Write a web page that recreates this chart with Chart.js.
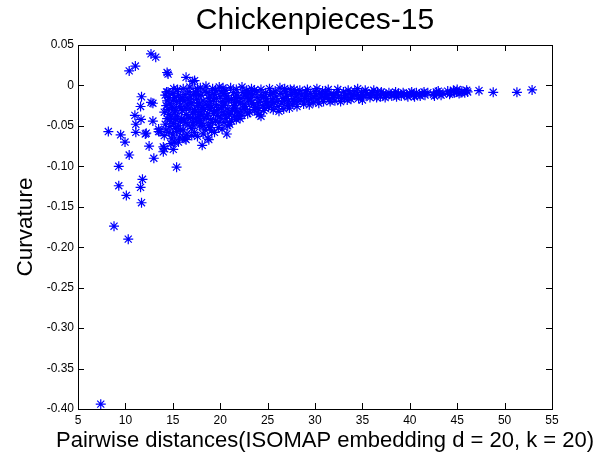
<!DOCTYPE html>
<html>
<head>
<meta charset="utf-8">
<script src="https://cdn.jsdelivr.net/npm/chart.js@4.4.0/dist/chart.umd.min.js"></script>
<style>
  body { margin: 0; background: #fff; }
  canvas { display: block; }
</style>
</head>
<body>
<canvas id="grafica" width="612" height="464"></canvas>
<script>
// textos y ejes
const titulo = 'Chickenpieces-15';
const etiquetaX = 'Pairwise distances(ISOMAP embedding d = 20, k = 20)';
const etiquetaY = 'Curvature';
const xTickValues = [5, 10, 15, 20, 25, 30, 35, 40, 45, 50, 55];
const yTickValues = [-0.4, -0.35, -0.3, -0.25, -0.2, -0.15, -0.1, -0.05, 0, 0.05];

// puntos sueltos a la izquierda (distancia, curvatura)
const sparsePoints = [
  [7.4, -0.394], [8.2, -0.057], [8.8, -0.174], [9.3, -0.100], [9.3, -0.124], [9.5, -0.061],
  [9.96, -0.070], [10.1, -0.136], [10.3, -0.190], [10.4, -0.086], [10.4, 0.018], [11.05, 0.024],
  [11.0, -0.037], [11.1, -0.048], [11.1, -0.058], [11.6, -0.026], [11.6, -0.126], [11.65, -0.042],
  [11.7, -0.014], [11.7, -0.145], [11.8, -0.116], [12.1, -0.060], [12.2, -0.059], [12.5, -0.075],
  [12.7, 0.039], [12.7, -0.021], [12.9, -0.044], [13.0, -0.090], [13.2, 0.035], [13.5, -0.057],
  [13.5, -0.054], [13.65, -0.057], [12.9, -0.022], [14.4, 0.016], [14.5, 0.014], [16.4, 0.010],
  [17.1, 0.005], [17.3, 0.006], [14.35, -0.008], [15.4, -0.101], [14.1, -0.078], [15.05, -0.079],
  [14.0, -0.076], [14.0, -0.082], [16.3, -0.066], [16.4, -0.067], [18.1, -0.074], [18.7, -0.065],
  [18.8, -0.067], [20.7, -0.060]
];

// nube densa entre 14 y 25
const densePoints = [
  [14.2, -0.012], [14.3, -0.025], [14.1, -0.033], [14.4, -0.041], [14.2, -0.048], [14.3, -0.055],
  [14.1, -0.062], [14.5, -0.030], [14.6, -0.015], [14.7, -0.022], [14.6, -0.036], [14.8, -0.044],
  [14.7, -0.051], [14.6, -0.058], [14.9, -0.066], [14.8, -0.039], [15.0, -0.010], [15.1, -0.018],
  [15.0, -0.027], [15.2, -0.034], [15.1, -0.047], [15.3, -0.053], [15.0, -0.061], [15.2, -0.070],
  [15.3, -0.031], [15.5, -0.005], [15.6, -0.012], [15.4, -0.020], [15.7, -0.026], [15.5, -0.038],
  [15.8, -0.045], [15.6, -0.050], [15.4, -0.057], [15.7, -0.064], [15.9, -0.029], [15.9, -0.041],
  [14.4, -0.019], [15.3, -0.042],
  [16.1, -0.004], [16.3, -0.011], [16.2, -0.019], [16.5, -0.024], [16.0, -0.031], [16.4, -0.036],
  [16.2, -0.043], [16.6, -0.049], [16.1, -0.055], [16.5, -0.060], [16.8, -0.002], [16.9, -0.014],
  [17.0, -0.021], [16.8, -0.028], [17.1, -0.034], [16.9, -0.040], [17.2, -0.046], [17.0, -0.053],
  [17.3, -0.058], [17.4, -0.008], [17.5, -0.017], [17.6, -0.025], [17.3, -0.030], [17.7, -0.038],
  [17.5, -0.044], [17.8, -0.050], [17.6, -0.063], [17.9, -0.003], [18.0, -0.012], [18.2, -0.019],
  [18.1, -0.027], [17.9, -0.033], [18.3, -0.041], [18.0, -0.047], [18.4, -0.055], [18.2, -0.060],
  [18.5, -0.001], [18.6, -0.009], [18.8, -0.016], [18.5, -0.023], [18.9, -0.029], [18.7, -0.035],
  [19.0, -0.042], [18.8, -0.049], [19.1, -0.056], [19.2, -0.004], [19.4, -0.011], [19.3, -0.018],
  [19.6, -0.024], [19.4, -0.031], [19.7, -0.037], [19.5, -0.044], [19.8, -0.052], [19.9, -0.002],
  [20.0, -0.014], [20.2, -0.020], [20.1, -0.027], [20.3, -0.033], [20.0, -0.039], [20.4, -0.046],
  [20.2, -0.054], [20.6, -0.006], [20.7, -0.013], [20.5, -0.022], [20.8, -0.029], [20.9, -0.035],
  [20.6, -0.041], [21.0, -0.048], [21.1, -0.003], [21.2, -0.017], [21.4, -0.025], [21.3, -0.031],
  [21.5, -0.038], [21.2, -0.044],
  [16.7, -0.008], [17.8, -0.022], [18.6, -0.038], [19.1, -0.027], [19.9, -0.045], [20.4, -0.010],
  [21.0, -0.036], [16.3, -0.046], [17.2, -0.011], [18.4, -0.007], [19.6, -0.016], [20.9, -0.019],
  [21.6, -0.015], [16.0, -0.015], [17.4, -0.041], [18.9, -0.052], [19.3, -0.035], [20.3, -0.025],
  [21.8, -0.032], [22.4, -0.028], [23.0, -0.010], [23.9, -0.033], [24.6, -0.014], [22.1, -0.022],
  [21.7, -0.005], [21.8, -0.012], [21.9, -0.020], [21.6, -0.028], [22.0, -0.034], [22.1, -0.041],
  [22.3, -0.002], [22.4, -0.009], [22.2, -0.016], [22.5, -0.023], [22.6, -0.030], [22.3, -0.037],
  [22.8, -0.006], [22.9, -0.014], [23.0, -0.019], [22.7, -0.026], [23.1, -0.033], [23.3, -0.004],
  [23.4, -0.011], [23.2, -0.017], [23.5, -0.024], [23.6, -0.030], [23.8, -0.008], [23.9, -0.015],
  [24.0, -0.021], [23.7, -0.027], [24.1, -0.036], [24.3, -0.005], [24.4, -0.012], [24.2, -0.018],
  [24.5, -0.025], [24.6, -0.031], [24.8, -0.009], [24.9, -0.016], [25.0, -0.022], [24.7, -0.028],
  [14.5, -0.008], [14.9, -0.028], [15.2, -0.015], [15.8, -0.018], [15.8, -0.055], [16.4, -0.028],
  [16.6, -0.040], [16.9, -0.022], [17.1, -0.048], [17.4, -0.032], [17.7, -0.012], [17.9, -0.043],
  [18.3, -0.030], [18.2, -0.050], [18.7, -0.025], [18.9, -0.012], [19.2, -0.046], [19.5, -0.006],
  [19.8, -0.030], [20.1, -0.008], [20.5, -0.036], [20.8, -0.050], [21.4, -0.009], [21.5, -0.021],
  [21.9, -0.038], [22.6, -0.013], [22.9, -0.035], [23.3, -0.022], [23.6, -0.006], [24.0, -0.028],
  [24.3, -0.038], [24.8, -0.020], [14.8, -0.072], [15.6, -0.070], [16.2, -0.064], [17.0, -0.062],
  [19.4, -0.058], [16.6, -0.017], [18.0, -0.036], [19.0, -0.020], [20.6, -0.016], [21.7, -0.042],
  [15.1, -0.004], [17.6, -0.004], [20.3, -0.003]
];

// cola que se estrecha hacia la derecha
const tailPoints = [
  [25.2, -0.004], [25.3, -0.011], [25.5, -0.017], [25.4, -0.024], [25.6, -0.030], [25.8, -0.007],
  [25.9, -0.014], [26.0, -0.020], [26.1, -0.026], [26.3, -0.003], [26.4, -0.010], [26.6, -0.016],
  [26.5, -0.022], [26.7, -0.029], [26.9, -0.008], [27.0, -0.013], [27.2, -0.019], [27.1, -0.025],
  [27.4, -0.005], [27.5, -0.011], [27.7, -0.017], [27.6, -0.023], [27.9, -0.009], [28.0, -0.014],
  [28.2, -0.020], [28.1, -0.026], [28.4, -0.006], [28.6, -0.012], [28.5, -0.018], [28.8, -0.023],
  [29.0, -0.008], [29.1, -0.013], [29.3, -0.019], [29.5, -0.010], [29.6, -0.016], [29.8, -0.021],
  [30.0, -0.007], [30.1, -0.012], [30.3, -0.017], [30.5, -0.010], [30.7, -0.014], [30.9, -0.020],
  [31.1, -0.008], [31.3, -0.012], [31.5, -0.017], [31.7, -0.010], [31.9, -0.015], [32.1, -0.019],
  [32.3, -0.009], [32.5, -0.013], [32.8, -0.016], [33.0, -0.008], [33.2, -0.012], [33.4, -0.018],
  [33.7, -0.010], [33.9, -0.014], [34.2, -0.007], [34.4, -0.012], [34.6, -0.016], [34.9, -0.009],
  [35.1, -0.013], [35.3, -0.006], [35.5, -0.011], [35.8, -0.015], [36.0, -0.009], [36.3, -0.012],
  [36.6, -0.008], [36.9, -0.014], [37.2, -0.010], [37.5, -0.012], [37.8, -0.009], [38.1, -0.013],
  [38.4, -0.011], [38.8, -0.010], [39.1, -0.013], [39.4, -0.011], [39.7, -0.012], [40.0, -0.010],
  [40.4, -0.012], [40.7, -0.009], [41.0, -0.011], [41.3, -0.010], [41.6, -0.012], [41.9, -0.009],
  [42.5, -0.011], [42.8, -0.008], [43.1, -0.010], [43.3, -0.012], [44.0, -0.007], [44.3, -0.009],
  [44.6, -0.006], [44.9, -0.008], [45.2, -0.010], [45.5, -0.007], [45.8, -0.009], [46.1, -0.008],
  [25.1, -0.027], [25.6, -0.009], [25.7, -0.021], [26.2, -0.032], [26.8, -0.004], [26.8, -0.019],
  [27.3, -0.028], [27.8, -0.005], [27.8, -0.020], [28.3, -0.010], [28.9, -0.016], [29.2, -0.005],
  [29.4, -0.024], [29.9, -0.014], [30.2, -0.004], [30.4, -0.022], [30.8, -0.007], [31.0, -0.015],
  [31.4, -0.005], [31.6, -0.020], [32.0, -0.012], [32.4, -0.005], [32.7, -0.020], [33.1, -0.015],
  [33.5, -0.006], [33.8, -0.017], [34.0, -0.011], [34.5, -0.004], [34.8, -0.013], [35.0, -0.018],
  [35.4, -0.009], [35.9, -0.012], [36.2, -0.006], [36.5, -0.015], [37.0, -0.008], [37.4, -0.015],
  [38.0, -0.011], [38.5, -0.008], [38.6, -0.014], [39.3, -0.009], [39.8, -0.014], [40.2, -0.008],
  [40.5, -0.014], [41.1, -0.013], [41.5, -0.008], [42.6, -0.013], [43.0, -0.007], [43.5, -0.010],
  [44.2, -0.011], [44.7, -0.009], [45.0, -0.005], [45.4, -0.009], [46.0, -0.006],
  [47.3, -0.0065], [48.8, -0.0085], [51.3, -0.0085], [52.9, -0.0056]
];

const puntos = sparsePoints.concat(densePoints, tailPoints).map(p => ({ x: p[0], y: p[1] }));

const fuente = 'Arial, "Liberation Sans", sans-serif';

// caja, marcas hacia dentro y textos, como en matlab
const cajaMatlab = {
  id: 'cajaMatlab',
  afterDraw(chart) {
    const { ctx, chartArea: a, scales } = chart;
    const L = 6;
    ctx.save();
    ctx.strokeStyle = '#000';
    ctx.lineWidth = 1;
    ctx.beginPath();
    scales.x.ticks.forEach(t => {
      const px = Math.round(scales.x.getPixelForValue(t.value)) + 0.5;
      ctx.moveTo(px, a.bottom); ctx.lineTo(px, a.bottom - L);
      ctx.moveTo(px, a.top); ctx.lineTo(px, a.top + L);
    });
    scales.y.ticks.forEach(t => {
      const py = Math.round(scales.y.getPixelForValue(t.value)) + 0.5;
      ctx.moveTo(a.left, py); ctx.lineTo(a.left + L, py);
      ctx.moveTo(a.right, py); ctx.lineTo(a.right - L, py);
    });
    ctx.stroke();
    ctx.strokeRect(Math.round(a.left) + 0.5, Math.round(a.top) + 0.5,
      Math.round(a.right - a.left), Math.round(a.bottom - a.top));

    // titulo y etiqueta x sin que Chart.js los comprima
    ctx.fillStyle = '#000';
    ctx.textAlign = 'center';
    ctx.textBaseline = 'middle';
    ctx.font = '30px ' + fuente;
    ctx.fillText(titulo, (a.left + a.right) / 2, 21);
    ctx.font = '22px ' + fuente;
    ctx.fillText(etiquetaX, (a.left + a.right) / 2 + 10, 441);
    ctx.restore();
  }
};

const config = {
  type: 'scatter',
  data: {
    datasets: [{
      data: puntos,
      pointStyle: 'star',
      pointRadius: 5,
      borderWidth: 1.2,
      borderColor: 'rgb(0, 0, 255)',
      backgroundColor: 'rgb(0, 0, 255)'
    }]
  },
  options: {
    responsive: false,
    animation: false,
    layout: { padding: { left: 0, right: 60, top: 45, bottom: 0 } },
    plugins: {
      legend: { display: false },
      tooltip: { enabled: false },
      title: { display: false }
    },
    scales: {
      x: {
        type: 'linear',
        min: 5,
        max: 55,
        afterBuildTicks: s => { s.ticks = xTickValues.map(v => ({ value: v })); },
        afterFit: s => { s.height = 55; },
        grid: { display: false, drawTicks: false },
        border: { display: false },
        ticks: { color: '#000', padding: 4, font: { family: fuente, size: 12 } }
      },
      y: {
        type: 'linear',
        min: -0.4,
        max: 0.05,
        afterBuildTicks: s => { s.ticks = yTickValues.map(v => ({ value: v })); },
        afterFit: s => { s.width = 78; },
        grid: { display: false, drawTicks: false },
        border: { display: false },
        ticks: { color: '#000', padding: 4, font: { family: fuente, size: 12 } },
        title: {
          display: true,
          text: etiquetaY,
          color: '#000',
          font: { family: fuente, size: 22.5 },
          padding: { top: 12, bottom: 12 }
        }
      }
    }
  },
  plugins: [cajaMatlab]
};

let miGrafica = new Chart(document.querySelector('#grafica'), config);
</script>
</body>
</html>
